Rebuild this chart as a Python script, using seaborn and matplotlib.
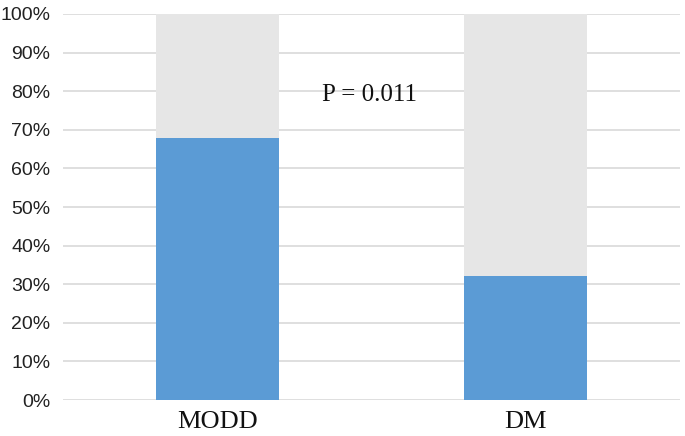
import matplotlib
matplotlib.use("Agg")
import matplotlib.pyplot as plt
import seaborn as sns
import pandas as pd

categories = ["MODD", "DM"]
positive = [68, 32]
total = [100, 100]
y_ticks = [0, 10, 20, 30, 40, 50, 60, 70, 80, 90, 100]
y_tick_labels = ["0%", "10%", "20%", "30%", "40%", "50%", "60%", "70%", "80%", "90%", "100%"]
annotation = "P = 0.011"

df = pd.DataFrame({"cat": categories, "pos": positive, "total": total})

sns.set_style("white")
fig = plt.figure(figsize=(6.85, 4.36), dpi=100)
ax = fig.add_axes([63/685, 1 - 400/436, (680-63)/685, (400-14)/436])

sns.barplot(data=df, x="cat", y="total", color="#E6E6E6", width=0.4, ax=ax,
            saturation=1, zorder=2, linewidth=0)
sns.barplot(data=df, x="cat", y="pos", color="#5B9BD5", width=0.4, ax=ax,
            saturation=1, zorder=3, linewidth=0)

ax.set_xlim(-0.5, 1.5)
ax.set_ylim(0, 100)
ax.set_yticks(y_ticks)
ax.set_yticklabels(y_tick_labels, fontfamily="Liberation Sans", fontsize=14, color="#222222")
ax.set_xticks(range(len(categories)))
ax.set_xticklabels(categories, fontfamily="Liberation Serif", fontsize=19, color="#111111")
ax.set_xlabel("")
ax.set_ylabel("")
ax.yaxis.grid(True, color="#D9D9D9", linewidth=1.2, zorder=0)
ax.set_axisbelow(True)
for s in ax.spines.values():
    s.set_visible(False)
ax.tick_params(axis="both", length=0)
ax.tick_params(axis="y", pad=9)
ax.tick_params(axis="x", pad=8)

ax.text(0.495, 79, annotation, ha="center", va="center", fontfamily="Liberation Serif",
        fontsize=18, color="#111111", zorder=4)

fig.savefig("out.png", dpi=100)
